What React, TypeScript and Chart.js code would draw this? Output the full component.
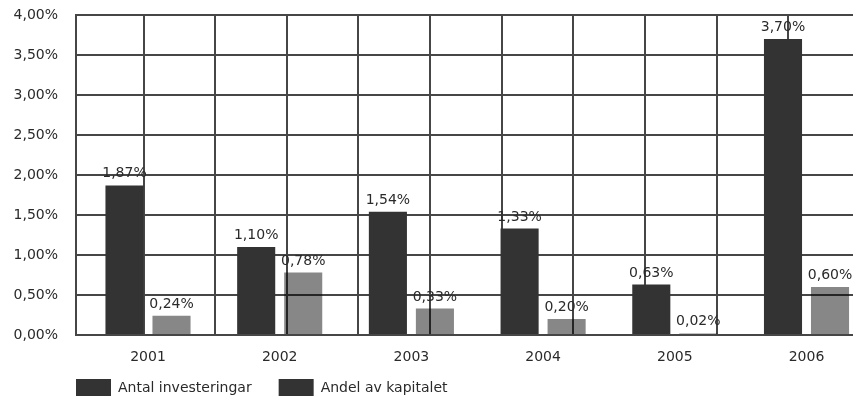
import React, { useEffect, useRef } from 'react';
import { Chart, registerables } from 'chart.js';

Chart.register(...registerables);

// Andelar per år (procent)
const years = ['2001', '2002', '2003', '2004', '2005', '2006'];
const antalInvesteringar = [1.87, 1.1, 1.54, 1.33, 0.63, 3.7];
const andelAvKapitalet = [0.24, 0.78, 0.33, 0.2, 0.02, 0.6];
const seriesNames = ['Antal investeringar', 'Andel av kapitalet'];
const yTicks = [0, 0.5, 1, 1.5, 2, 2.5, 3, 3.5, 4];
const gridSteps = [1, 2, 3, 4, 5, 6, 7, 8, 9, 10, 11];

const FONT_FAMILY = '"DejaVu Sans", "Liberation Sans", sans-serif';
const FONT_SIZE = 14;
const TEXT = '#2a2a2a';
const GRID = '#464646';
const DARK = '#333333';
const LIGHT = 'rgba(0,0,0,0.47)';

const fmt = (v: number) => v.toFixed(2).replace('.', ',') + '%';

// Procenttal ovanför varje stapel
const valueLabels = {
  id: 'valueLabels',
  afterDatasetsDraw(chart: any) {
    const ctx = chart.ctx;
    ctx.save();
    ctx.font = `${FONT_SIZE}px ${FONT_FAMILY}`;
    ctx.fillStyle = TEXT;
    ctx.textAlign = 'center';
    ctx.textBaseline = 'alphabetic';
    chart.data.datasets.forEach((ds: any, di: number) => {
      const meta = chart.getDatasetMeta(di);
      meta.data.forEach((bar: any, i: number) => {
        const v = ds.data[i].y;
        ctx.fillText(fmt(v), bar.x, bar.y - 8);
      });
    });
    ctx.restore();
  },
};

// Förklaring under diagrammet, i linje med y-axeln
const legendRow = {
  id: 'legendRow',
  afterDraw(chart: any) {
    const ctx = chart.ctx;
    const area = chart.chartArea;
    ctx.save();
    ctx.font = `${FONT_SIZE}px ${FONT_FAMILY}`;
    ctx.textAlign = 'left';
    ctx.textBaseline = 'middle';
    let x = area.left;
    const boxTop = area.bottom + 44;
    const boxW = 35;
    const boxH = 17;
    chart.data.datasets.forEach((ds: any) => {
      ctx.fillStyle = DARK;
      ctx.fillRect(x, boxTop, boxW, boxH);
      ctx.fillStyle = TEXT;
      const tx = x + boxW + 7;
      ctx.fillText(ds.label, tx, boxTop + boxH / 2 + 0.5);
      x = tx + ctx.measureText(ds.label).width + 27;
    });
    ctx.restore();
  },
};

export default function App() {
  const canvasRef = useRef<HTMLCanvasElement | null>(null);

  useEffect(() => {
    const canvas = canvasRef.current;
    if (!canvas) return;
    const font = { family: FONT_FAMILY, size: FONT_SIZE };

    const chart = new Chart(canvas, {
      type: 'bar',
      data: {
        datasets: [
          {
            label: seriesNames[0],
            data: antalInvesteringar.map((y, i) => ({ x: i, y })),
            backgroundColor: DARK,
            borderWidth: 0,
            xAxisID: 'x',
            yAxisID: 'y',
          },
          {
            label: seriesNames[1],
            data: andelAvKapitalet.map((y, i) => ({ x: i, y })),
            backgroundColor: LIGHT,
            borderWidth: 0,
            xAxisID: 'x',
            yAxisID: 'y',
          },
        ],
      },
      options: {
        responsive: false,
        animation: false,
        categoryPercentage: 0.714,
        barPercentage: 0.81,
        layout: { padding: { top: 15, right: 5, bottom: 33, left: 0 } },
        plugins: {
          legend: { display: false },
          tooltip: { enabled: false },
        },
        scales: {
          x: {
            type: 'linear',
            axis: 'x',
            position: 'bottom',
            offset: false,
            min: -0.5467,
            max: 5.558,
            grid: { display: false, drawTicks: false },
            border: { display: false },
            afterBuildTicks: (s: any) => {
              s.ticks = years.map((_, i) => ({ value: i }));
            },
            ticks: {
              callback: (v: any) => years[v] ?? '',
              font,
              color: TEXT,
              padding: 14,
              maxRotation: 0,
              autoSkip: false,
            },
            afterFit: (s: any) => {
              s.height = 30;
            },
          },
          xg: {
            type: 'linear',
            axis: 'x',
            position: 'bottom',
            offset: false,
            min: 0.0572,
            max: 11.28,
            afterBuildTicks: (s: any) => {
              s.ticks = gridSteps.map((v) => ({ value: v }));
            },
            ticks: { display: false },
            grid: { color: GRID, lineWidth: 2, drawTicks: false, offset: false },
            border: { display: false },
            afterFit: (s: any) => {
              s.height = 0;
            },
          },
          y: {
            type: 'linear',
            min: 0,
            max: 4,
            afterBuildTicks: (s: any) => {
              s.ticks = yTicks.map((v) => ({ value: v }));
            },
            ticks: {
              callback: (v: any) => fmt(Number(v)),
              font,
              color: TEXT,
              padding: 18,
            },
            grid: { color: GRID, lineWidth: 2, drawTicks: false },
            border: { display: true, color: GRID, width: 2 },
            afterFit: (s: any) => {
              s.width = 76;
              s.paddingTop = 0;
              s.paddingBottom = 0;
            },
          },
        },
      } as any,
      plugins: [valueLabels, legendRow],
    });

    return () => chart.destroy();
  }, []);

  return (
    <div
      style={{
        position: 'fixed',
        left: 0,
        top: 0,
        width: 853,
        height: 398,
        overflow: 'hidden',
        background: '#ffffff',
      }}
    >
      <canvas ref={canvasRef} width={885} height={398} style={{ display: 'block' }} />
    </div>
  );
}
